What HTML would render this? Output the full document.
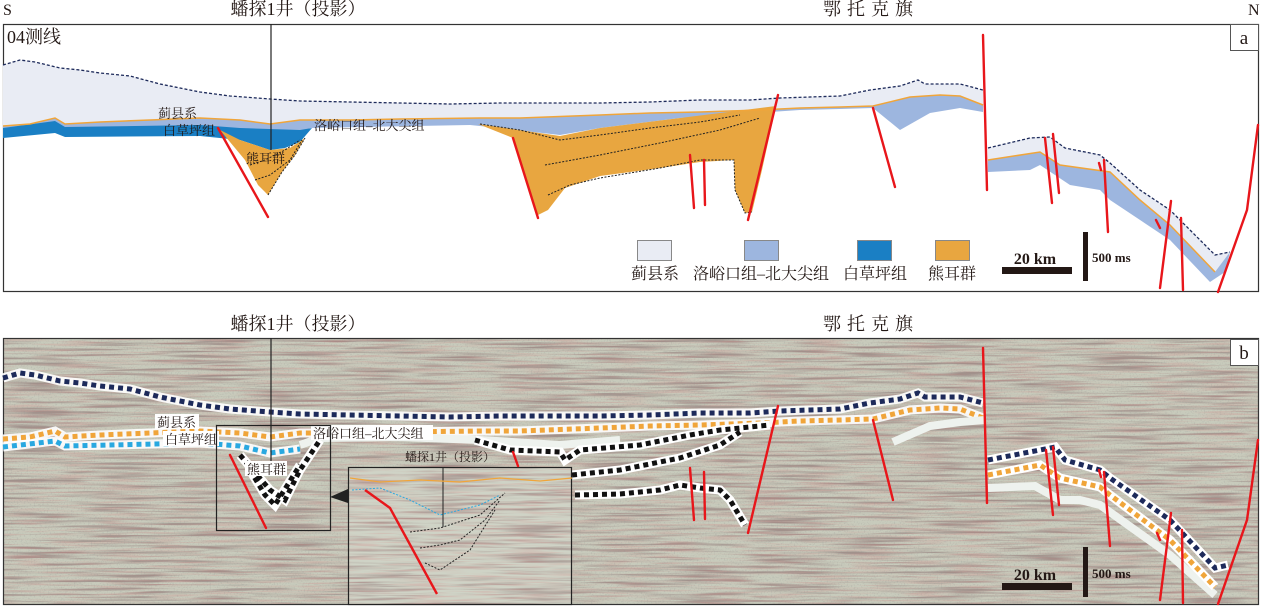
<!DOCTYPE html>
<html><head><meta charset="utf-8"><style>
html,body{margin:0;padding:0;background:#fff}
svg{display:block}
text{font-family:"Liberation Serif","Noto Serif CJK SC","Noto Sans CJK SC",serif;fill:#231815}
</style></head><body>
<svg width="1264" height="606" viewBox="0 0 1264 606" xmlns="http://www.w3.org/2000/svg">
<defs>
<filter id="seis" x="0" y="0" width="100%" height="100%">
<feTurbulence type="fractalNoise" baseFrequency="0.012 0.35" numOctaves="3" seed="4" result="t"/>
<feColorMatrix type="matrix" values="0 0 0 0 0.25  0 0 0 0 0.15  0 0 0 0 0.15  -3.2 0 0 0 1.75" in="t" result="c"/>
<feComposite in="c" in2="SourceGraphic" operator="in"/>
</filter>
<filter id="seisr" x="0" y="0" width="100%" height="100%">
<feTurbulence type="fractalNoise" baseFrequency="0.02 0.5" numOctaves="2" seed="11" result="t"/>
<feColorMatrix type="matrix" values="0 0 0 0 0.65  0 0 0 0 0.2  0 0 0 0 0.2  0 -3.5 0 0 1.9" in="t" result="c"/>
<feComposite in="c" in2="SourceGraphic" operator="in"/>
</filter>
<filter id="seis2" x="0" y="0" width="100%" height="100%">
<feTurbulence type="fractalNoise" baseFrequency="0.7 0.7" numOctaves="1" seed="9" result="t"/>
<feColorMatrix type="matrix" values="0 0 0 0 0.3  0 0 0 0 0.3  0 0 0 0 0.3  -2.2 0 0 0 1.1" in="t" result="c"/>
<feComposite in="c" in2="SourceGraphic" operator="in"/>
</filter>
<path id="topL" d="M3,65 L20,60 L35,62 L60,68 L80,70 L100,73 L130,76 L160,84 L180,88 L200,92 L230,96 L270,99 L300,101 L350,102 L400,103 L450,104 L500,103 L550,103 L600,103 L650,102 L700,100 L750,100 L780,98 L810,97 L840,96 L870,90 L900,86 L918,80 L925,84 L960,84 L983,90"/>
<path id="orL" d="M3,126 L30,124 L55,118 L65,124 L100,122 L150,120 L200,118 L240,120 L270,124 L300,120 L350,120 L400,119 L480,118 L520,118 L600,115 L650,113 L700,112 L760,110 L800,108 L840,107 L873,106 L910,97 L940,95 L960,96 L983,105"/>
<path id="blL" d="M3,134 L55,128 L65,133 L200,130 L240,133 L270,140 L300,136"/>
</defs>

<text x="3" y="15" font-size="16">S</text>
<text x="298" y="15" font-size="18" text-anchor="middle">蟠探1井（投影）</text>
<text x="871" y="15" font-size="18" text-anchor="middle" letter-spacing="6">鄂托克旗</text>
<text x="1248" y="15" font-size="16">N</text>

<rect x="3.5" y="24.5" width="1255" height="267" fill="#fff" stroke="#333" stroke-width="1.2"/>
<text x="7" y="43" font-size="18">04测线</text>
<rect x="1230.5" y="24.5" width="28" height="26" fill="#fff" stroke="#555"/>
<text x="1244" y="44" font-size="19" text-anchor="middle">a</text>

<path d="M3,65 L20,60 L35,62 L60,68 L80,70 L100,73 L130,76 L160,84 L180,88 L200,92 L230,96 L270,99 L300,101 L350,102 L400,103 L450,104 L500,103 L550,103 L600,103 L650,102 L700,100 L750,100 L780,98 L810,97 L840,96 L870,90 L900,86 L918,80 L925,84 L960,84 L983,90 L983,105 L960,96 L940,95 L910,97 L873,106 L840,107 L800,108 L760,110 L700,112 L650,113 L600,115 L520,118 L480,118 L400,119 L350,120 L300,120 L270,124 L240,120 L200,118 L150,120 L100,122 L65,124 L55,118 L30,124 L3,126 Z" fill="#e9ecf4"/>
<path d="M3,126 L30,124 L55,118 L65,124 L100,122 L150,120 L200,118 L240,120 L270,124 L300,120 L350,120 L400,119 L480,118 L520,118 L600,115 L650,113 L700,112 L760,110 L800,108 L840,107 L873,106 L910,97 L940,95 L960,96 L983,105 L983,112 L960,108 L930,113 L900,130 L873,108 L840,109 L800,110 L770,112 L680,118 L600,128 L560,135 L480,126 L470,125 L310,128 L300,136 L270,142 L240,134 L200,130 L65,133 L55,128 L3,134 Z" fill="#9db6df"/>
<path d="M3,128 L55,121 L65,127 L200,125 L240,128 L300,130 L312,128 L300,142 L285,148 L270,150 L240,140 L200,136 L65,137 L55,133 L3,138 Z" fill="#1a7fc4"/>
<path d="M220,130 L240,140 L270,150 L290,148 L305,138 L295,155 L282,172 L268,195 L258,185 L245,160 Z" fill="#e8a640"/>
<path d="M478,124 L560,136 L600,128 L680,118 L776,106 L762,170 L752,212 L745,213 L735,190 L734,160 L700,162 L660,168 L600,176 L565,188 L548,210 L538,215 L522,165 L513,138 Z" fill="#e8a640"/>
<g fill="none" stroke="#222" stroke-width="1" stroke-dasharray="2 1.5">
<path d="M250,165 L265,160 L285,150 L300,140"/><path d="M255,180 L270,175 L290,160 L302,140"/>
<path d="M268,195 L282,172 L295,155 L305,138"/>
<path d="M480,124 L520,130 L560,140 L600,135 L650,128 L700,122 L740,115"/>
<path d="M545,165 L600,155 L660,143 L720,130 L760,118"/>
<path d="M548,195 L570,185 L600,178 L660,168 L700,160 L734,160 L735,190 L745,213 L752,212"/>
</g>
<path d="M988,148 L1030,138 L1050,137 L1065,148 L1100,155 L1110,163 L1140,190 L1170,210 L1215,255 L1230,252 L1225,272 L1210,282 L1170,240 L1110,200 L1100,190 L1070,185 L1040,165 L1030,170 L988,172 Z" fill="#9db6df"/>
<path d="M988,148 L1030,138 L1050,137 L1065,148 L1100,155 L1110,163 L1140,190 L1170,210 L1215,255 L1230,252 L1215,272 L1170,225 L1140,200 L1110,172 L1060,165 L1040,152 L988,160 Z" fill="#e9ecf4"/>
<path d="M988,160 L1040,152 L1060,165 L1110,172 L1140,200 L1170,225 L1215,272" fill="none" stroke="#f0a53a" stroke-width="1.5"/>
<path d="M988,148 L1030,138 L1050,137 L1065,148 L1100,155 L1110,163 L1140,190 L1170,210 L1215,255 L1230,252" fill="none" stroke="#1d2a5a" stroke-width="1.3" stroke-dasharray="3 2"/>
<use href="#orL" fill="none" stroke="#f0a53a" stroke-width="1.5"/>
<use href="#topL" fill="none" stroke="#1d2a5a" stroke-width="1.3" stroke-dasharray="3 2"/>
<line x1="271" y1="24" x2="271" y2="150" stroke="#222" stroke-width="1.2"/>
<text x="158" y="118" font-size="13">蓟县系</text>
<text x="163" y="135" font-size="13">白草坪组</text>
<text x="314" y="130" font-size="13">洛峪口组–北大尖组</text>
<text x="246" y="163" font-size="13">熊耳群</text>
<g stroke="#e8161b" stroke-width="2.4" fill="none" stroke-linecap="round">
<path d="M218,128 L268,217"/><path d="M513,138 L538,218"/><path d="M778,95 L748,220"/>
<path d="M690,155 L694,208"/><path d="M704,160 L705,205"/><path d="M873,108 L895,187"/>
<path d="M983,35 L987,190"/><path d="M1045,138 L1052,203"/><path d="M1053,134 L1059,193"/>
<path d="M1099,163 L1101,170"/><path d="M1104,160 L1108,232"/><path d="M1156,220 L1160,228"/>
<path d="M1171,201 L1160,288"/><path d="M1181,218 L1183,290"/><path d="M1258,125 L1247,210 L1218,292"/>
</g>
<rect x="637.5" y="240.5" width="34" height="20" fill="#e9ecf4" stroke="#888"/>
<rect x="744.5" y="240.5" width="34" height="20" fill="#9db6df" stroke="#888"/>
<rect x="857.5" y="240.5" width="34" height="20" fill="#1a7fc4" stroke="#888"/>
<rect x="935.5" y="240.5" width="34" height="20" fill="#e8a640" stroke="#888"/>
<text x="655" y="279" font-size="16" text-anchor="middle">蓟县系</text>
<text x="761" y="279" font-size="16" text-anchor="middle">洛峪口组–北大尖组</text>
<text x="875" y="279" font-size="16" text-anchor="middle">白草坪组</text>
<text x="952" y="279" font-size="16" text-anchor="middle">熊耳群</text>
<text x="1035" y="264" font-size="16" font-weight="bold" text-anchor="middle">20 km</text>
<rect x="1002" y="267" width="70" height="7" fill="#231815"/>
<rect x="1083" y="232" width="5" height="49" fill="#231815"/>
<text x="1092" y="262" font-size="13" font-weight="bold">500 ms</text>

<text x="298" y="330" font-size="18" text-anchor="middle">蟠探1井（投影）</text>
<text x="871" y="330" font-size="18" text-anchor="middle" letter-spacing="6">鄂托克旗</text>

<rect x="3" y="338" width="1256" height="267" fill="#c8cbbc"/>
<rect x="3" y="338" width="1256" height="267" fill="#000" filter="url(#seis)" opacity="0.6"/>
<rect x="3" y="338" width="1256" height="267" fill="#000" filter="url(#seisr)" opacity="0.25"/>
<rect x="3" y="338" width="1256" height="267" fill="#000" filter="url(#seis2)" opacity="0.45"/>
<rect x="3.5" y="338.5" width="1255" height="266" fill="none" stroke="#333" stroke-width="1.2"/>
<rect x="1230.5" y="339.5" width="28" height="26" fill="#fff" stroke="#555"/>
<text x="1244" y="359" font-size="19" text-anchor="middle">b</text>

<g transform="translate(0,313)" fill="none">
<use href="#topL" stroke="#fff" stroke-width="9" opacity="0.9"/>
<use href="#topL" stroke="#1d2a5a" stroke-width="5" stroke-dasharray="5 4"/>
<use href="#orL" stroke="#fff" stroke-width="9" opacity="0.9"/>
<use href="#orL" stroke="#f0a53a" stroke-width="5" stroke-dasharray="5 4"/>
<use href="#blL" stroke="#fff" stroke-width="9" opacity="0.9"/>
<use href="#blL" stroke="#29a8e0" stroke-width="5" stroke-dasharray="5 4"/>
</g>
<g fill="none">
<path d="M300,445 L320,438 L400,437 L480,440 L560,445 L620,440" stroke="#eef2ee" stroke-width="8"/>
<path d="M893,442 L930,426 L960,422 L985,420" stroke="#eef2ee" stroke-width="8"/>
<path d="M988,488 L1035,486 L1060,500 L1080,500 L1100,505 L1170,555 L1215,595" stroke="#eef2ee" stroke-width="8"/>
<path d="M988,475 L1040,465 L1060,478 L1100,487 L1110,495 L1170,540 L1215,587" stroke="#fff" stroke-width="9"/>
<path d="M988,475 L1040,465 L1060,478 L1100,487 L1110,495 L1170,540 L1215,587" stroke="#f0a53a" stroke-width="5" stroke-dasharray="5 4"/>
<path d="M988,460 L1040,450 L1055,447 L1065,460 L1100,470 L1110,478 L1170,520 L1215,568 L1228,565" stroke="#fff" stroke-width="9"/>
<path d="M988,460 L1040,450 L1055,447 L1065,460 L1100,470 L1110,478 L1170,520 L1215,568 L1228,565" stroke="#1d2a5a" stroke-width="5" stroke-dasharray="5 4"/>
<g stroke="#fff" stroke-width="9">
<path d="M240,455 L270,490 L285,500 L300,470 L320,440"/>
<path d="M250,470 L265,495 L275,505 L300,465"/>
<path d="M475,440 L510,450 L560,452 L565,460 L580,450 L640,445 L690,435 L720,430 L770,425"/>
<path d="M572,475 L620,470 L680,458 L720,445 L740,432"/>
<path d="M575,495 L620,494 L660,490 L680,485 L700,488 L720,490 L730,500 L745,525"/>
</g>
<g stroke="#111" stroke-width="5" stroke-dasharray="5 4">
<path d="M240,455 L270,490 L285,500 L300,470 L320,440"/>
<path d="M250,470 L265,495 L275,505 L300,465"/>
<path d="M475,440 L510,450 L560,452 L565,460 L580,450 L640,445 L690,435 L720,430 L770,425"/>
<path d="M572,475 L620,470 L680,458 L720,445 L740,432"/>
<path d="M575,495 L620,494 L660,490 L680,485 L700,488 L720,490 L730,500 L745,525"/>
</g>
</g>
<line x1="271" y1="338" x2="271" y2="465" stroke="#222" stroke-width="1.2"/>
<g>
<rect x="155" y="414" width="44" height="15" fill="#fff"/>
<text x="157" y="427" font-size="13">蓟县系</text>
<rect x="163" y="431" width="56" height="15" fill="#fff"/>
<text x="165" y="444" font-size="13">白草坪组</text>
<rect x="311" y="425" width="122" height="15" fill="#fff"/>
<text x="313" y="438" font-size="13">洛峪口组–北大尖组</text>
<rect x="245" y="461" width="42" height="15" fill="#fff"/>
<text x="247" y="474" font-size="13">熊耳群</text>
</g>
<rect x="216.5" y="425.5" width="114" height="105" fill="none" stroke="#222" stroke-width="1.2"/>
<path d="M330,497 L348,489 L348,503 Z" fill="#222"/>
<rect x="348" y="467" width="224" height="138" fill="#cfd3c6"/>
<rect x="348" y="467" width="224" height="138" fill="#000" filter="url(#seis)" opacity="0.5"/>
<rect x="348" y="467" width="224" height="138" fill="#000" filter="url(#seisr)" opacity="0.25"/>
<rect x="348.5" y="467.5" width="223" height="137" fill="none" stroke="#222" stroke-width="1.2"/>
<text x="450" y="461" font-size="12" text-anchor="middle">蟠探1井（投影）</text>
<line x1="443" y1="467" x2="443" y2="527" stroke="#222" stroke-width="1"/>
<path d="M350,478 L380,482 L420,480 L460,482 L500,478 L540,481 L572,478" fill="none" stroke="#f0a53a" stroke-width="1.2"/>
<path d="M352,490 L380,488 L410,500 L440,515 L480,505 L500,495" fill="none" stroke="#29a8e0" stroke-width="1" stroke-dasharray="2 1.5"/>
<g fill="none" stroke="#222" stroke-width="1" stroke-dasharray="2 1.5">
<path d="M410,532 L440,528 L480,515 L505,493"/>
<path d="M420,548 L440,545 L460,540 L485,520 L500,500"/>
<path d="M425,563 L440,570 L470,550 L495,510"/>
</g>
<path d="M365,490 L390,508 L437,594" fill="none" stroke="#e8161b" stroke-width="2.4"/>
<g stroke="#e8161b" stroke-width="2.4" fill="none" stroke-linecap="round">
<path d="M230,455 L266,528"/><path d="M513,452 L518,466"/><path d="M778,406 L748,533"/>
<path d="M690,468 L694,520"/><path d="M704,472 L705,519"/><path d="M873,420 L893,500"/>
<path d="M983,348 L987,503"/><path d="M1046,450 L1053,515"/><path d="M1053,447 L1059,505"/>
<path d="M1099,470 L1101,477"/><path d="M1104,472 L1110,546"/><path d="M1157,533 L1160,540"/>
<path d="M1171,513 L1160,600"/><path d="M1182,530 L1183,603"/><path d="M1258,440 L1247,520 L1218,604"/>
</g>
<text x="1035" y="580" font-size="16" font-weight="bold" text-anchor="middle">20 km</text>
<rect x="1002" y="583" width="70" height="7" fill="#231815"/>
<rect x="1083" y="547" width="5" height="50" fill="#231815"/>
<text x="1092" y="578" font-size="13" font-weight="bold">500 ms</text>
</svg>
</body></html>
